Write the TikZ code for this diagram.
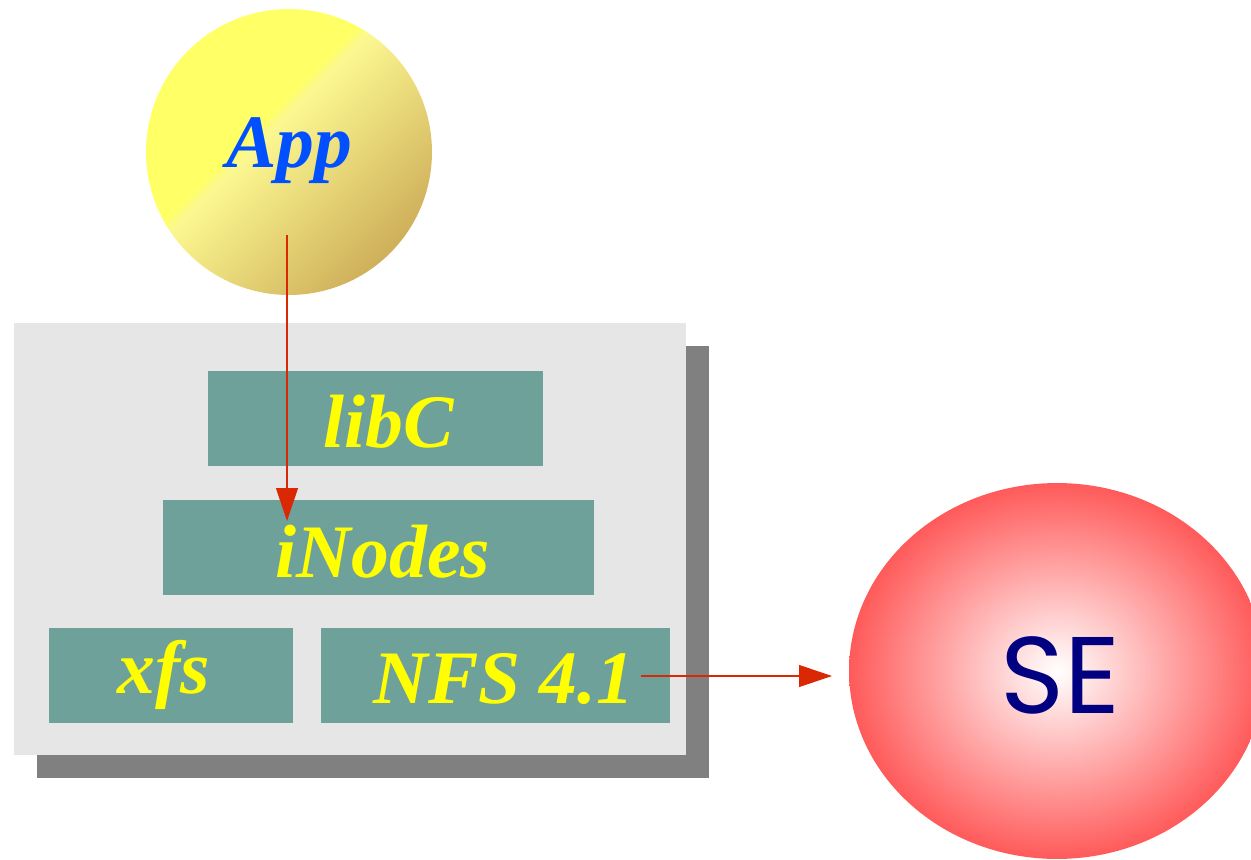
\documentclass[tikz,border=0pt]{standalone}
\usepackage{fontspec}
\setmainfont{Liberation Serif}
\newfontfamily\sefont{Poppins}
\usetikzlibrary{arrows.meta,shapes.geometric}

\definecolor{appyellow}{RGB}{255,255,102}
\definecolor{applight}{RGB}{252,248,145}
\definecolor{appdark}{RGB}{190,148,70}
\definecolor{appblue}{RGB}{0,80,255}
\definecolor{sered}{RGB}{255,90,90}
\definecolor{senavy}{RGB}{0,0,128}
\definecolor{panelgray}{RGB}{230,230,230}
\definecolor{shadowgray}{RGB}{128,128,128}
\definecolor{layerteal}{RGB}{111,161,155}
\definecolor{labelyellow}{RGB}{255,255,0}
\definecolor{flowred}{RGB}{218,40,5}

% diagonal light-to-dark shading of the application ball
\pgfdeclarehorizontalshading{appball}{100bp}{color(0bp)=(appyellow); color(43bp)=(appyellow); color(45bp)=(applight); color(86bp)=(appdark); color(100bp)=(appdark)}

\tikzset{
  layer/.style={fill=layerteal, draw=none, inner sep=0pt, minimum height=1.9cm},
  layertext/.style={anchor=base, inner sep=0pt, text=labelyellow, font=\fontsize{43}{43}\selectfont\bfseries\itshape},
  flow/.style={draw=flowred, line width=0.6pt, -{Triangle[length=0.66cm,width=0.44cm,fill=flowred]}},
}

\begin{document}
\begin{tikzpicture}[x=0.02cm, y=-0.02cm]
  \useasboundingbox (0,0) rectangle (1251,859);

  % application
  \node[circle, minimum size=5.72cm, inner sep=0pt, shading=appball, shading angle=-45] (app) at (289,152) {};
  \node[anchor=base, inner sep=0pt, text=appblue, font=\fontsize{43}{43}\selectfont\bfseries\itshape] (apptext) at (289,167) {App};

  % storage element
  \node[ellipse, minimum width=8.32cm, minimum height=7.52cm, inner sep=0pt, inner color=white, outer color=sered] (se) at (1057,671) {};
  \node[anchor=base, inner sep=0pt, text=senavy, font=\fontsize{62}{62}\sefont] (setext) at (1060,713) {SE};

  % software stack panel with its drop shadow
  \node[fill=shadowgray, minimum width=13.44cm, minimum height=8.64cm, inner sep=0pt] (shadow) at (373,562) {};
  \node[fill=panelgray, minimum width=13.44cm, minimum height=8.64cm, inner sep=0pt] (panel) at (350,539) {};

  % layers
  \node[layer, minimum width=6.7cm] (libc) at (375.5,418.5) {};
  \node[layer, minimum width=8.62cm] (inodes) at (378.5,547.5) {};
  \node[layer, minimum width=4.88cm] (xfs) at (171,675.5) {};
  \node[layer, minimum width=6.98cm] (nfs) at (495.5,675.5) {};

  \node[layertext] (libctext) at (389,447) {libC};
  \node[layertext] (inodestext) at (383,577) {iNodes};
  \node[layertext] (xfstext) at (164,693) {xfs};
  \node[layertext] (nfstext) at (504,703) {NFS 4.1};

  % data paths
  \coordinate (appout) at (287,235);
  \coordinate (inodesin) at (287,521);
  \coordinate (nfsout) at (641,676);
  \coordinate (sein) at (832,676);
  \draw[flow] (appout) -- (inodesin);
  \draw[flow] (nfsout) -- (sein);
\end{tikzpicture}
\end{document}
